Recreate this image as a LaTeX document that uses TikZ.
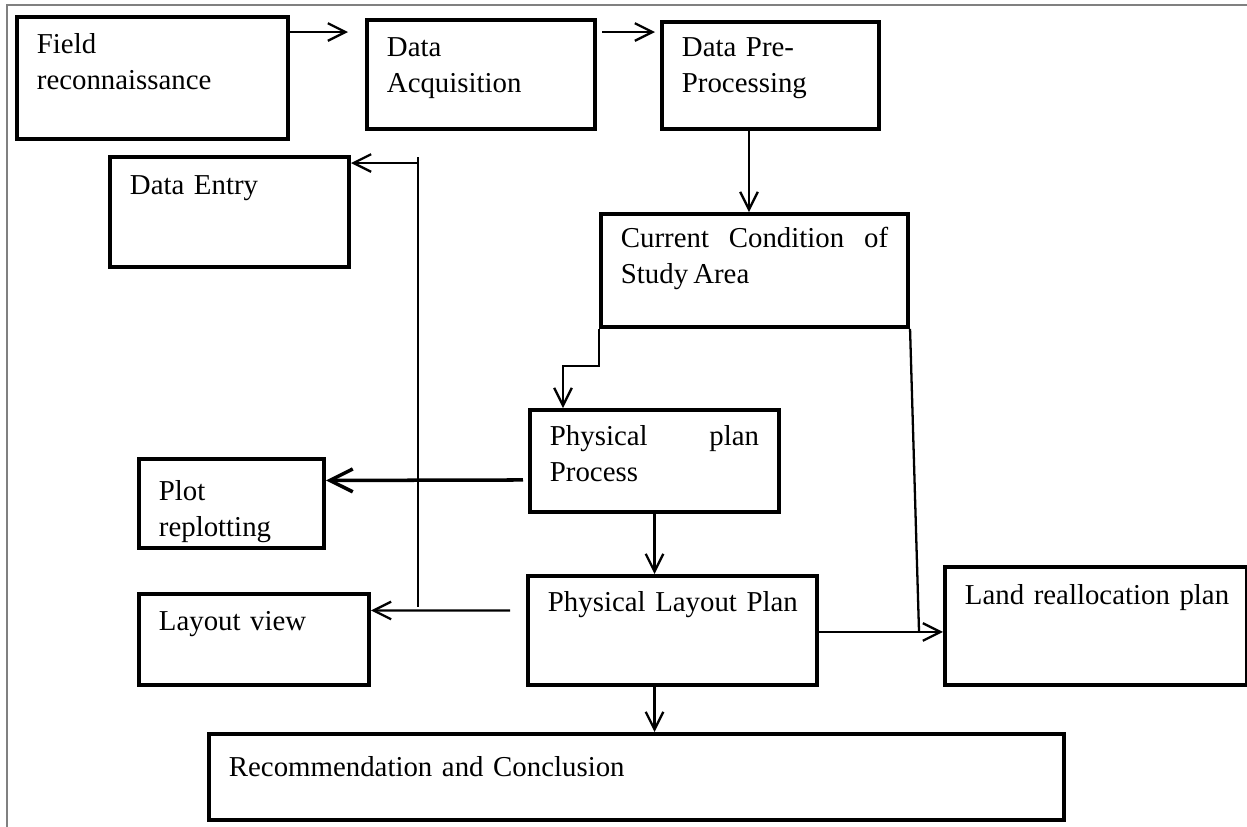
\documentclass[tikz,border=0pt]{standalone}
\usepackage{fontspec}
\setmainfont[WordSpace=0.7]{Liberation Serif}
\usetikzlibrary{arrows.meta,calc}

\begin{document}
\begin{tikzpicture}[x=0.01cm, y=-0.01cm, >={Straight Barb[length=5pt,width=5pt]},
  font=\fontsize{8.2}{10}\selectfont,
  stage/.style={draw, line width=1.1pt, anchor=north west, align=left,
    inner xsep=2mm, inner ysep=0pt},
  link/.style={line width=0.65pt}]

\useasboundingbox (0,0) rectangle (1247,827);

% Frame
\draw[gray, line width=0.4pt] (7,827) -- (7,5) -- (1247,5);

%--------------------
% Top row
%--------------------
\node[stage, text width=23.1mm, text height=3.7mm, text depth=8.5mm] (field) at (15,15) {Field\\reconnaissance};
\node[stage, text width=18.8mm, text height=3.7mm, text depth=7.2mm] (acq) at (365,18) {Data\\Acquisition};
\node[stage, text width=17.7mm, text height=3.5mm, text depth=7.2mm] (pre) at (660,20) {Data Pre-\\Processing};

\draw[->, link] ($(field.north east)+(0,17)$) -- ($(acq.north west)+(-17,14)$);
\draw[->, link] ($(acq.north east)+(5,14)$) -- ($(pre.north west)+(-5,12)$);

%--------------------
% Middle column
%--------------------
\node[stage, align=justify, text width=26.7mm, text height=3.4mm, text depth=7.9mm] (cur) at (599,212) {Current Condition of\linebreak Study Area};
\node[stage, align=justify, text width=20.9mm, text height=3.6mm, text depth=6.6mm] (phys) at (528,408) {Physical plan\linebreak Process};
\node[stage, text width=24.9mm, text height=3.6mm, text depth=7.3mm] (plp) at (526,574) {\mbox{Physical Layout Plan}};
\node[stage, text width=26.2mm, text height=3.8mm, text depth=8.0mm] (land) at (943,565) {\mbox{Land reallocation plan}};
\node[stage, text width=81.5mm, text height=4.3mm, text depth=4.3mm] (rec) at (207,732) {Recommendation and Conclusion};

\draw[->, link] ($(pre.south west)+(89,0)$) -- ($(cur.north west)+(150,0)$);
\draw[->, link] (cur.south west) -- ++(0,37) -| ($(phys.north west)+(35,0)$);
\draw[->, link] (phys.south) -- (phys.south |- plp.north);
\draw[->, link] (phys.south |- plp.south) -- (phys.south |- rec.north);

% Right branch to land reallocation
\coordinate (lp) at ($(plp.east)+(0,1.5)$);
\coordinate (bend) at ($(lp)+(100,0)$);
\draw[link] (cur.south east) -- (bend);
\draw[->, link] (lp) -- (lp -| land.west);

%--------------------
% Left column and trunk
%--------------------
\node[stage, text width=19.9mm, text height=3.8mm, text depth=7.2mm] (dentry) at (108,155) {Data Entry};
\node[stage, text width=14.5mm, text height=4.2mm, text depth=4.7mm] (plot) at (137,457) {Plot\\replotting};
\node[stage, text width=19.0mm, text height=3.7mm, text depth=5.4mm] (lview) at (137,592) {Layout view};

\coordinate (ttop) at (418,157);
\coordinate (tbot) at (418,607);
\draw[link, line width=0.8pt] (ttop) -- (tbot);

\draw[->, link] ($(ttop)+(0,6)$) -- ($(dentry.north east)+(0,8)$);
\draw[-{Straight Barb[length=6.5pt,width=6.5pt]}, line width=1pt] ($(phys.west)+(-5,19)$) -- ($(plot.east)+(0,-23)$);
\draw[->, link] ($(plp.west)+(-16,-20)$) -- ($(lview.east)+(0,-29)$);

\end{tikzpicture}
\end{document}
